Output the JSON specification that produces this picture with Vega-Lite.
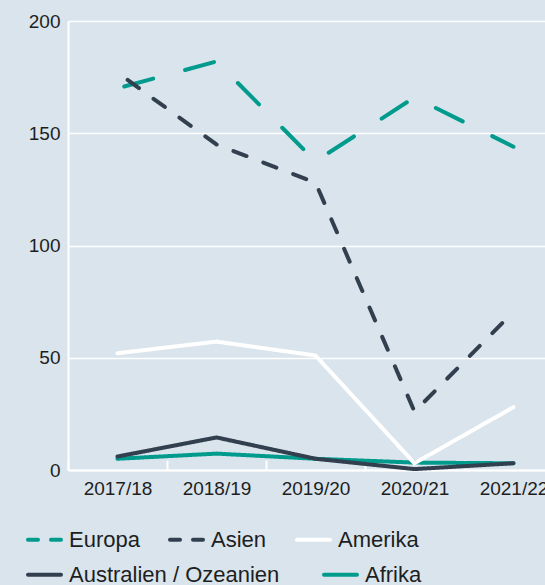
{
  "$schema": "https://vega.github.io/schema/vega-lite/v6.json",
  "width": 477,
  "height": 449,
  "autosize": {"type": "none"},
  "padding": {"left": 68, "top": 21, "right": 0, "bottom": 115},
  "background": "#d9e4ec",
  "config": {
    "view": {"stroke": null},
    "font": "Liberation Sans"
  },
  "data": {
    "values": [
      {"year": "2017/18", "region": "Europa", "value": 170},
      {"year": "2018/19", "region": "Europa", "value": 182},
      {"year": "2019/20", "region": "Europa", "value": 137.5},
      {"year": "2020/21", "region": "Europa", "value": 166},
      {"year": "2021/22", "region": "Europa", "value": 144},
      {"year": "2017/18", "region": "Afrika", "value": 5},
      {"year": "2018/19", "region": "Afrika", "value": 7.3},
      {"year": "2019/20", "region": "Afrika", "value": 5},
      {"year": "2020/21", "region": "Afrika", "value": 3.3},
      {"year": "2021/22", "region": "Afrika", "value": 3},
      {"year": "2017/18", "region": "Australien / Ozeanien", "value": 6},
      {"year": "2018/19", "region": "Australien / Ozeanien", "value": 14.5},
      {"year": "2019/20", "region": "Australien / Ozeanien", "value": 5},
      {"year": "2020/21", "region": "Australien / Ozeanien", "value": 0.4},
      {"year": "2021/22", "region": "Australien / Ozeanien", "value": 3},
      {"year": "2017/18", "region": "Asien", "value": 177},
      {"year": "2018/19", "region": "Asien", "value": 145},
      {"year": "2019/20", "region": "Asien", "value": 128},
      {"year": "2020/21", "region": "Asien", "value": 26},
      {"year": "2021/22", "region": "Asien", "value": 70.5},
      {"year": "2017/18", "region": "Amerika", "value": 52},
      {"year": "2018/19", "region": "Amerika", "value": 57.2},
      {"year": "2019/20", "region": "Amerika", "value": 51},
      {"year": "2020/21", "region": "Amerika", "value": 3},
      {"year": "2021/22", "region": "Amerika", "value": 28}
    ]
  },
  "mark": {
    "type": "line",
    "strokeWidth": 4,
    "strokeCap": "round",
    "strokeDashOffset": {"expr": "datum.region === 'Europa' ? 56 : datum.region === 'Asien' ? 19.5 : 0"}
  },
  "encoding": {
    "x": {
      "field": "year",
      "type": "nominal",
      "sort": null,
      "scale": {"type": "band", "range": [0, 495], "paddingInner": 0, "paddingOuter": 0},
      "axis": {
        "title": null,
        "labelAngle": 0,
        "domainColor": "white",
        "domainWidth": 2,
        "tickBand": "extent",
        "tickColor": "white",
        "tickWidth": 2,
        "tickSize": -10,
        "labelFontSize": 19,
        "labelColor": "#1e1e1e",
        "labelPadding": 19,
        "grid": false
      }
    },
    "y": {
      "field": "value",
      "type": "quantitative",
      "scale": {"domain": [0, 200], "nice": false},
      "axis": {
        "title": null,
        "values": [0, 50, 100, 150, 200],
        "domainColor": "white",
        "domainWidth": 2,
        "ticks": false,
        "grid": true,
        "gridColor": "white",
        "gridWidth": 1.5,
        "gridOpacity": 1,
        "labelFontSize": 19,
        "labelPadding": 8,
        "labelColor": "#1e1e1e"
      }
    },
    "color": {
      "field": "region",
      "type": "nominal",
      "scale": {
        "domain": ["Europa", "Asien", "Amerika", "Australien / Ozeanien", "Afrika"],
        "range": ["#009b8d", "#323f4f", "#ffffff", "#323f4f", "#009b8d"]
      },
      "legend": {
        "title": null,
        "values": ["Europa", "Asien", "Amerika"],
        "orient": "none",
        "legendX": -42,
        "legendY": 500,
        "padding": 0,
        "direction": "horizontal",
        "columnPadding": 22,
        "labelFontSize": 22,
        "labelColor": "#1e1e1e",
        "labelOffset": 6,
        "labelLimit": 400,
        "symbolType": "stroke",
        "symbolSize": 1089,
        "symbolStrokeWidth": 4,
        "encode": {
          "symbols": {
            "update": {
              "strokeDash": {"signal": "indexof(['Europa','Asien'], datum.value) >= 0 ? [10,13] : [1,0]"},
              "strokeCap": {"value": "round"}
            }
          }
        }
      }
    },
    "strokeDash": {
      "field": "region",
      "type": "nominal",
      "scale": {
        "domain": ["Australien / Ozeanien", "Afrika", "Europa", "Asien", "Amerika"],
        "range": [[1, 0], [1, 0], [30, 33], [14, 18], [1, 0]]
      },
      "legend": {
        "title": null,
        "values": ["Australien / Ozeanien", "Afrika"],
        "orient": "none",
        "legendX": -42,
        "legendY": 535,
        "padding": 0,
        "direction": "horizontal",
        "columnPadding": 36,
        "labelFontSize": 22,
        "labelColor": "#1e1e1e",
        "labelOffset": 6,
        "labelLimit": 400,
        "symbolType": "stroke",
        "symbolSize": 1089,
        "symbolStrokeWidth": 4,
        "encode": {
          "symbols": {
            "update": {
              "stroke": {"scale": "color", "field": "value"},
              "strokeDash": {"value": [1, 0]},
              "strokeCap": {"value": "round"}
            }
          }
        }
      }
    }
  }
}
